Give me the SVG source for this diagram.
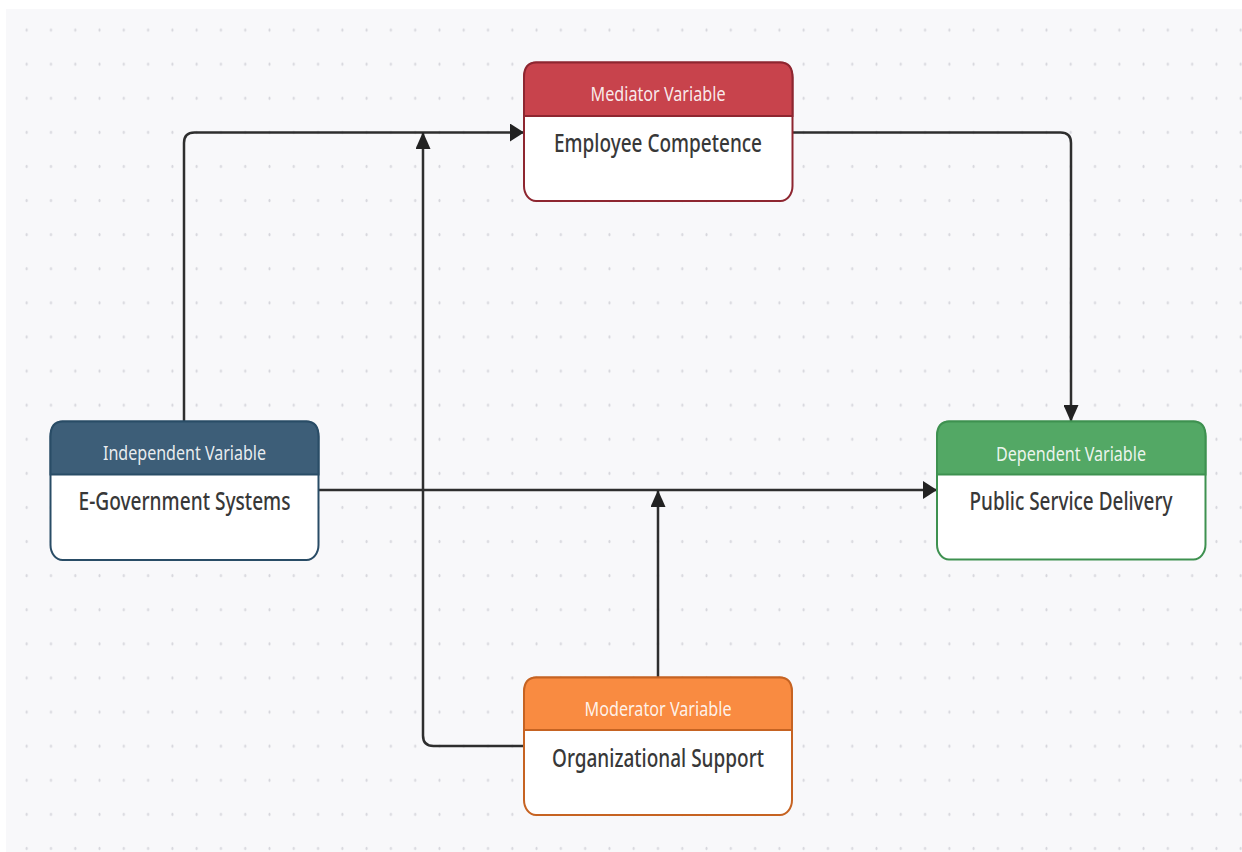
<svg xmlns="http://www.w3.org/2000/svg" width="1242" height="852" viewBox="0 0 1242 852">
<style>
.hdr{font-family:"Noto Sans","Open Sans",sans-serif;font-size:14px;fill:#ffffff;fill-opacity:0.9;text-anchor:middle}
.body{font-family:"Noto Sans","Open Sans",sans-serif;font-size:18.5px;font-weight:500;fill:#383838;text-anchor:middle}
.box{fill:#ffffff;stroke-width:2}
.conn{fill:none;stroke:#2e2e2e;stroke-width:2.5}
</style>
<defs>
<pattern id="dots" patternUnits="userSpaceOnUse" x="14.56" y="12.95" width="24.28" height="34.1">
<ellipse cx="12.14" cy="17.05" rx="1" ry="1.8" fill="#d6d6dc"/>
</pattern>
<marker id="ah" markerUnits="userSpaceOnUse" viewBox="0 0 14 18" refX="14" refY="9" markerWidth="14" markerHeight="18" orient="auto">
<path d="M0,0 L14,9 L0,18 Z" fill="#222222"/>
</marker>
<marker id="av" markerUnits="userSpaceOnUse" viewBox="0 0 17 15" refX="17" refY="7.5" markerWidth="17" markerHeight="15" orient="auto">
<path d="M0,0 L17,7.5 L0,15 Z" fill="#222222"/>
</marker>
</defs>
<rect width="1242" height="852" fill="#ffffff"/>
<rect x="6" y="9" width="1236" height="843" fill="#f8f8fa"/>
<rect x="6" y="9" width="1236" height="843" fill="url(#dots)"/>

<g id="connectors">
<path class="conn" d="M184,421 V143 Q184,132.5 194.5,132.5 H524" marker-end="url(#ah)"/>
<path class="conn" d="M793,132.5 H1060.5 Q1071,132.5 1071,143 V422" marker-end="url(#av)"/>
<path class="conn" d="M319,490 H937" marker-end="url(#ah)"/>
<path class="conn" d="M524,746 H433.5 Q423,746 423,735.5 V132" marker-end="url(#av)"/>
<path class="conn" d="M658,677 V490" marker-end="url(#av)"/>
</g>

<g id="mediator">
<rect class="box" x="524" y="62.5" width="268.5" height="138.5" rx="12" ry="15" stroke="#8e2630"/>
<path d="M524,116 V77.5 Q524,62.5 536,62.5 H780.5 Q792.5,62.5 792.5,77.5 V116 Z" fill="#c8434c" stroke="#8e2630" stroke-width="2"/>
<text class="hdr" transform="translate(658,101) scale(1,1.4)" textLength="135" lengthAdjust="spacingAndGlyphs">Mediator Variable</text>
<text class="body" transform="translate(658,152) scale(1,1.4)" textLength="208" lengthAdjust="spacingAndGlyphs">Employee Competence</text>
</g>

<g id="independent">
<rect class="box" x="50.5" y="421.5" width="268" height="138.5" rx="12" ry="15" stroke="#294c66"/>
<path d="M50.5,474.5 V436.5 Q50.5,421.5 62.5,421.5 H306.5 Q318.5,421.5 318.5,436.5 V474.5 Z" fill="#3d5e78" stroke="#294c66" stroke-width="2"/>
<text class="hdr" transform="translate(184.5,460) scale(1,1.4)" textLength="163" lengthAdjust="spacingAndGlyphs">Independent Variable</text>
<text class="body" transform="translate(184.5,510) scale(1,1.4)" textLength="212" lengthAdjust="spacingAndGlyphs">E-Government Systems</text>
</g>

<g id="dependent">
<rect class="box" x="937" y="421.5" width="268.5" height="138" rx="12" ry="15" stroke="#3e9150"/>
<path d="M937,474.5 V436.5 Q937,421.5 949,421.5 H1193.5 Q1205.5,421.5 1205.5,436.5 V474.5 Z" fill="#53a865" stroke="#3e9150" stroke-width="2"/>
<text class="hdr" transform="translate(1071,460.5) scale(1,1.4)" textLength="150" lengthAdjust="spacingAndGlyphs">Dependent Variable</text>
<text class="body" transform="translate(1071,510) scale(1,1.4)" textLength="203" lengthAdjust="spacingAndGlyphs">Public Service Delivery</text>
</g>

<g id="moderator">
<rect class="box" x="524" y="677.5" width="268" height="137.5" rx="12" ry="15" stroke="#c66322"/>
<path d="M524,730 V692.5 Q524,677.5 536,677.5 H780 Q792,677.5 792,692.5 V730 Z" fill="#f98b41" stroke="#c66322" stroke-width="2"/>
<text class="hdr" transform="translate(658,715.5) scale(1,1.4)" textLength="147" lengthAdjust="spacingAndGlyphs">Moderator Variable</text>
<text class="body" transform="translate(658,766.5) scale(1,1.4)" textLength="212" lengthAdjust="spacingAndGlyphs">Organizational Support</text>
</g>
</svg>
